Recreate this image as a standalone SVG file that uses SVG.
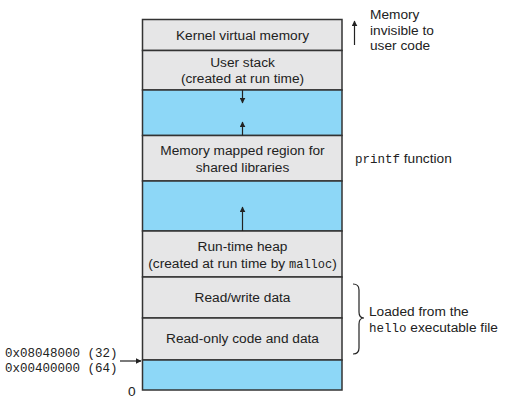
<svg xmlns="http://www.w3.org/2000/svg" width="505" height="406" viewBox="0 0 505 406">
<defs>
<marker id="ah" viewBox="0 0 10 10" refX="9" refY="5" markerWidth="6" markerHeight="6" orient="auto" markerUnits="userSpaceOnUse"><path d="M0,0 L10,5 L0,10 z" fill="#222"/></marker>
<style>
.g{fill:#e6e6e7;stroke:#333;stroke-width:1.5}
.b{fill:#8dd7f7;stroke:#333;stroke-width:1.5}
.t{font-family:"Liberation Sans",Arial,sans-serif;font-size:13.7px;fill:#222;text-anchor:middle}
.l{font-family:"Liberation Sans",Arial,sans-serif;font-size:13.7px;fill:#222}
.m{font-family:"Liberation Mono","Courier New",monospace;font-size:12.5px;fill:#222}
.c{stroke:#222;stroke-width:1.2;fill:none}
</style>
</defs>
<rect width="505" height="406" fill="#fff"/>
<g id="kernel"><rect class="g" x="142.5" y="19.5" width="199.5" height="31"/><text class="t" x="242.5" y="40">Kernel virtual memory</text></g>
<g id="userstack"><rect class="g" x="142.5" y="50.5" width="199.5" height="39.5"/><text class="t" x="242.5" y="67">User stack</text><text class="t" x="242.5" y="83">(created at run time)</text></g>
<g id="gap1"><rect class="b" x="142.5" y="90" width="199.5" height="45.5"/></g>
<g id="mmap"><rect class="g" x="142.5" y="135.5" width="199.5" height="45.5"/><text class="t" x="242.5" y="155">Memory mapped region for</text><text class="t" x="242.5" y="172">shared libraries</text></g>
<g id="gap2"><rect class="b" x="142.5" y="181" width="199.5" height="50"/></g>
<g id="heap"><rect class="g" x="142.5" y="231" width="199.5" height="46"/><text class="t" x="242.5" y="251">Run-time heap</text><text class="t" x="242.5" y="268">(created at run time by <tspan class="m" style="font-size:12px">malloc</tspan>)</text></g>
<g id="rwdata"><rect class="g" x="142.5" y="277" width="199.5" height="41"/><text class="t" x="242.5" y="302">Read/write data</text></g>
<g id="rodata"><rect class="g" x="142.5" y="318" width="199.5" height="42"/><text class="t" x="242.5" y="343">Read-only code and data</text></g>
<g id="bottom"><rect class="b" x="142.5" y="360" width="199.5" height="30"/></g>
<g id="connectors">
<line class="c" x1="242.5" y1="90" x2="242.5" y2="103" marker-end="url(#ah)"/>
<line class="c" x1="242.5" y1="135.5" x2="242.5" y2="122" marker-end="url(#ah)"/>
<line class="c" x1="242.5" y1="231" x2="242.5" y2="207" marker-end="url(#ah)"/>
<line class="c" x1="354.5" y1="45" x2="354.5" y2="21" marker-end="url(#ah)"/>
<line class="c" x1="120" y1="361" x2="141" y2="361" marker-end="url(#ah)"/>
<path class="c" d="M353,284 Q359,284 359,290 L359,312 Q359,318 364,318 Q359,318 359,324 L359,348 Q359,354 353,354"/>
</g>
<g id="labels">
<text class="l" x="370" y="19">Memory</text>
<text class="l" x="370" y="35">invisible to</text>
<text class="l" x="370" y="50">user code</text>
<text class="l" x="355" y="163"><tspan class="m">printf</tspan> function</text>
<text class="l" x="369" y="316">Loaded from the</text>
<text class="l" x="369" y="332"><tspan class="m">hello</tspan> executable file</text>
<text class="m" x="5" y="357">0x08048000 (32)</text>
<text class="m" x="5" y="372">0x00400000 (64)</text>
<text class="l" x="128" y="396">0</text>
</g>
</svg>
